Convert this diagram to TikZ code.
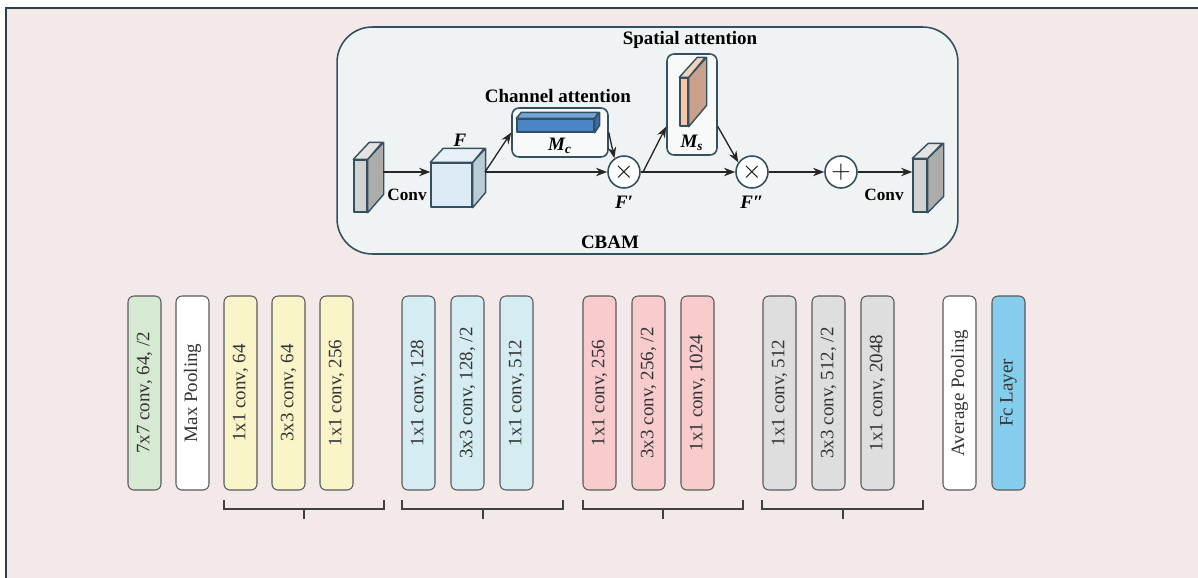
\documentclass[tikz,border=0pt]{standalone}
\usepackage{fontspec}
\setmainfont{Liberation Serif}
\usepackage{tikz}
\usetikzlibrary{arrows.meta,calc}

\definecolor{pagebg}{HTML}{F3E9E8}
\definecolor{framecol}{HTML}{2E3F48}
\definecolor{cbamfill}{HTML}{F0F3F4}
\definecolor{edgecol}{HTML}{35505E}
\definecolor{stemgreen}{HTML}{D6E9D3}
\definecolor{stageyellow}{HTML}{F9F5C9}
\definecolor{stageblue}{HTML}{D4ECF2}
\definecolor{stagered}{HTML}{F8CCCC}
\definecolor{stagegray}{HTML}{DEDEDE}
\definecolor{fcblue}{HTML}{84CDEC}
\definecolor{cubefront}{HTML}{DDEBF7}
\definecolor{cubeside}{HTML}{B9CCD8}
\definecolor{cubetop}{HTML}{E8F1F8}
\definecolor{mcfront}{HTML}{4A86C6}
\definecolor{mctop}{HTML}{74A5D8}
\definecolor{mcside}{HTML}{3A6CA4}
\definecolor{msfront}{HTML}{F6C6A9}
\definecolor{msside}{HTML}{C9A08B}
\definecolor{mstop}{HTML}{F3D3BE}

\begin{document}
\begin{tikzpicture}[
   >=Stealth, x=0.02cm, y=-0.02cm,
   bar/.style={draw=black!65, line width=0.6pt, rounded corners=3.4pt, rotate=90,
               minimum width=3.88cm, minimum height=0.66cm, inner sep=0pt,
               text=black!80, font=\fontsize{10.8}{12}\selectfont},
   lbl/.style={font=\bfseries\fontsize{9.8}{11}\selectfont},
   head/.style={font=\bfseries\fontsize{10.8}{12}\selectfont},
   face/.style={draw=edgecol, line width=0.8pt, line join=round, inner sep=0pt},
   op/.style={circle, draw=edgecol, line width=0.9pt, fill=white,
              minimum size=0.64cm, inner sep=0pt, font=\Large},
   att/.style={draw=edgecol, line width=0.9pt, rounded corners=4pt,
               fill=white!55!cbamfill, inner sep=0pt},
   flow/.style={->, line width=0.75pt, black!85},
   brace/.style={draw=black!75, line width=0.9pt}]
  \useasboundingbox (0,0) rectangle (1198,578);
  \fill[pagebg] (6,8) rectangle (1198,578);
  \draw[framecol, line width=1.1pt] (6,578) -- (6,8) -- (1198,8);

  % CBAM block
  \node[draw=edgecol, line width=0.9pt, fill=cbamfill, rounded corners=20pt,
        minimum width=12.42cm, minimum height=4.54cm] (cbam) at (647.5,140.5) {};
  \node[head] (cbamlbl) at (610,242) {CBAM};

  % input feature slab
  \node[face, fill=gray!35, minimum width=0.26cm, minimum height=1.04cm] (inconv) at (360.5,186) {};
  \filldraw[face, fill=gray!65] (inconv.north east) -- ++(16,-17) -- ++(0,52) -- (inconv.south east) -- cycle;
  \filldraw[face, fill=gray!22] (inconv.north west) -- ++(16,-17) -- ++(13,0) -- (inconv.north east) -- cycle;
  \node[lbl] (inlbl) at (407,195) {Conv};

  % feature cube F
  \node[face, fill=cubefront, minimum width=0.82cm, minimum height=0.88cm] (feat) at (451.5,185) {};
  \filldraw[face, fill=cubeside] (feat.north east) -- ++(13,-14) -- ++(0,44) -- (feat.south east) -- cycle;
  \filldraw[face, fill=cubetop] (feat.north west) -- ++(13,-14) -- ++(41,0) -- (feat.north east) -- cycle;
  \node[lbl, font=\bfseries\itshape\fontsize{10.8}{12}\selectfont] (flbl) at (460,140) {F};

  % channel attention
  \node[head] (chlbl) at (558,96) {Channel attention};
  \node[att, minimum width=1.92cm, minimum height=0.98cm] (chbox) at (560,132.5) {};
  \node[face, fill=mcfront, minimum width=1.54cm, minimum height=0.26cm] (mcbar) at (555.5,125.5) {};
  \filldraw[face, fill=mctop] (mcbar.north west) -- ++(5,-6) -- ++(77,0) -- (mcbar.north east) -- cycle;
  \filldraw[face, fill=mcside] (mcbar.north east) -- ++(5,-6) -- ++(0,13) -- (mcbar.south east) -- cycle;
  \node[font=\bfseries\itshape\fontsize{10.8}{12}\selectfont] (mclbl) at (560,146) {M\textsubscript{c}};

  % spatial attention
  \node[head] (splbl) at (690,40) {Spatial attention};
  \node[att, minimum width=1.0cm, minimum height=2.02cm] (spbox) at (692,104.5) {};
  \node[face, fill=msfront, minimum width=0.16cm, minimum height=0.96cm] (msslab) at (684,102) {};
  \filldraw[face, fill=msside] (msslab.north east) -- ++(18,-20) -- ++(0,48) -- (msslab.south east) -- cycle;
  \filldraw[face, fill=mstop] (msslab.north west) -- ++(18,-20) -- ++(8,0) -- (msslab.north east) -- cycle;
  \node[font=\bfseries\itshape\fontsize{10.8}{12}\selectfont] (mslbl) at (692,143) {M\textsubscript{s}};

  % operators
  \node[op] (mul1) at (624,172) {$\times$};
  \node[op] (mul2) at (752,172) {$\times$};
  \node[op] (add)  at (841,172) {$+$};
  \node[font=\bfseries\itshape\fontsize{10.8}{12}\selectfont] (f1lbl) at (624,202) {F′};
  \node[font=\bfseries\itshape\fontsize{10.8}{12}\selectfont] (f2lbl) at (752,202) {F″};

  % output feature slab
  \node[face, fill=gray!35, minimum width=0.28cm, minimum height=1.06cm] (outconv) at (920,185.5) {};
  \filldraw[face, fill=gray!65] (outconv.north east) -- ++(16,-15) -- ++(0,53) -- (outconv.south east) -- cycle;
  \filldraw[face, fill=gray!22] (outconv.north west) -- ++(16,-15) -- ++(14,0) -- (outconv.north east) -- cycle;
  \node[lbl] (outlbl) at (884,195) {Conv};

  \coordinate (inside) at (383,172);
  \coordinate (fout)   at (485,172);
  \coordinate (split)  at (643,172);
  \draw[flow] (inside) -- (feat.west |- inside);
  \draw[flow] (fout) -- (chbox.west);
  \draw[flow] (fout) -- (mul1.west);
  \draw[flow] (chbox.east) -- (mul1.125);
  \draw[flow] (mul1.east) -- (mul2.west);
  \draw[flow] (split) -- ($(spbox.west)+(0,22)$);
  \draw[flow] ($(spbox.east)+(0,22)$) -- (mul2.145);
  \draw[flow] (mul2.east) -- (add.west);
  \draw[flow] (add.east) -- (outconv.west |- add);

  % backbone layers
  \node[bar, fill=stemgreen]   (stem)  at (144.5,393) {7x7 conv, 64, /2};
  \node[bar, fill=white]       (mpool) at (192.5,393) {Max Pooling};
  \node[bar, fill=stageyellow] (s1a)   at (240.5,393) {1x1 conv, 64};
  \node[bar, fill=stageyellow] (s1b)   at (288.5,393) {3x3 conv, 64};
  \node[bar, fill=stageyellow] (s1c)   at (336.5,393) {1x1 conv, 256};
  \node[bar, fill=stageblue]   (s2a)   at (418.5,393) {1x1 conv, 128};
  \node[bar, fill=stageblue]   (s2b)   at (467.5,393) {3x3 conv, 128, /2};
  \node[bar, fill=stageblue]   (s2c)   at (516.5,393) {1x1 conv, 512};
  \node[bar, fill=stagered]    (s3a)   at (599.5,393) {1x1 conv, 256};
  \node[bar, fill=stagered]    (s3b)   at (648.5,393) {3x3 conv, 256, /2};
  \node[bar, fill=stagered]    (s3c)   at (697.5,393) {1x1 conv, 1024};
  \node[bar, fill=stagegray]   (s4a)   at (779.5,393) {1x1 conv, 512};
  \node[bar, fill=stagegray]   (s4b)   at (828.5,393) {3x3 conv, 512, /2};
  \node[bar, fill=stagegray]   (s4c)   at (877.5,393) {1x1 conv, 2048};
  \node[bar, fill=white]       (apool) at (959.5,393) {Average Pooling};
  \node[bar, fill=fcblue]      (fc)    at (1008.5,393) {Fc Layer};

  % stage brackets
  \draw[brace] (224,500) -- (224,509) -- (384,509) -- (384,500) (304,509) -- (304,519);
  \draw[brace] (402,500) -- (402,509) -- (563,509) -- (563,500) (483,509) -- (483,519);
  \draw[brace] (583,500) -- (583,509) -- (743,509) -- (743,500) (663,509) -- (663,519);
  \draw[brace] (762,500) -- (762,509) -- (923,509) -- (923,500) (843,509) -- (843,519);
\end{tikzpicture}
\end{document}
